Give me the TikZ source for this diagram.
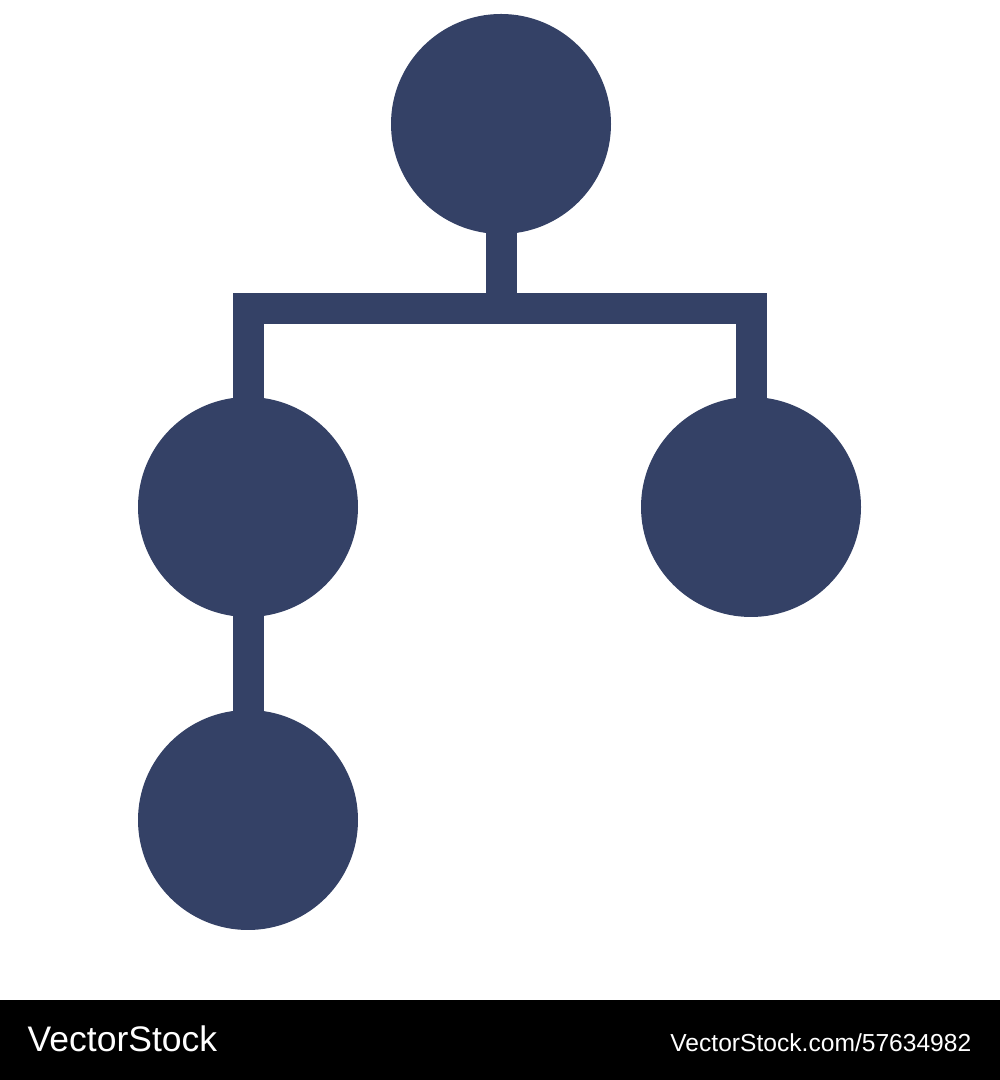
\documentclass[tikz,border=0pt]{standalone}
\usepackage{fontspec}
\setmainfont{Liberation Sans}
\usetikzlibrary{backgrounds}
\definecolor{navy}{RGB}{52,65,102}
\tikzset{
  bubble/.style={circle, fill=navy, minimum size=2.2cm, inner sep=0pt},
  link/.style={draw=navy, line width=0.31cm, line join=miter},
  mark text/.style={text=white, inner sep=0pt}
}
\begin{document}
\begin{tikzpicture}
  \useasboundingbox (0,0) rectangle (10,10.8);
  % footer
  \fill[black] (0,0) rectangle (10,0.8);
  \node[mark text, anchor=base west, font=\fontsize{10.1pt}{12pt}\selectfont] (brand) at (0.27,0.28) {VectorStock};
  \node[mark text, anchor=base east, font=\fontsize{7pt}{8pt}\selectfont] (ref) at (9.72,0.28) {VectorStock.com/57634982};
  % tree
  \node[bubble] (root) at (5.01,9.56) {};
  \node[bubble] (left) at (2.48,5.73) {};
  \node[bubble] (right) at (7.51,5.73) {};
  \node[bubble] (leaf) at (2.48,2.60) {};
  \coordinate (joint) at (5.01,7.71);
  \begin{scope}[on background layer]
    \draw[link] (root.center) -- (joint);
    \draw[link] (left.center) |- (joint) -| (right.center);
    \draw[link] (left.center) -- (leaf.center);
  \end{scope}
\end{tikzpicture}
\end{document}
